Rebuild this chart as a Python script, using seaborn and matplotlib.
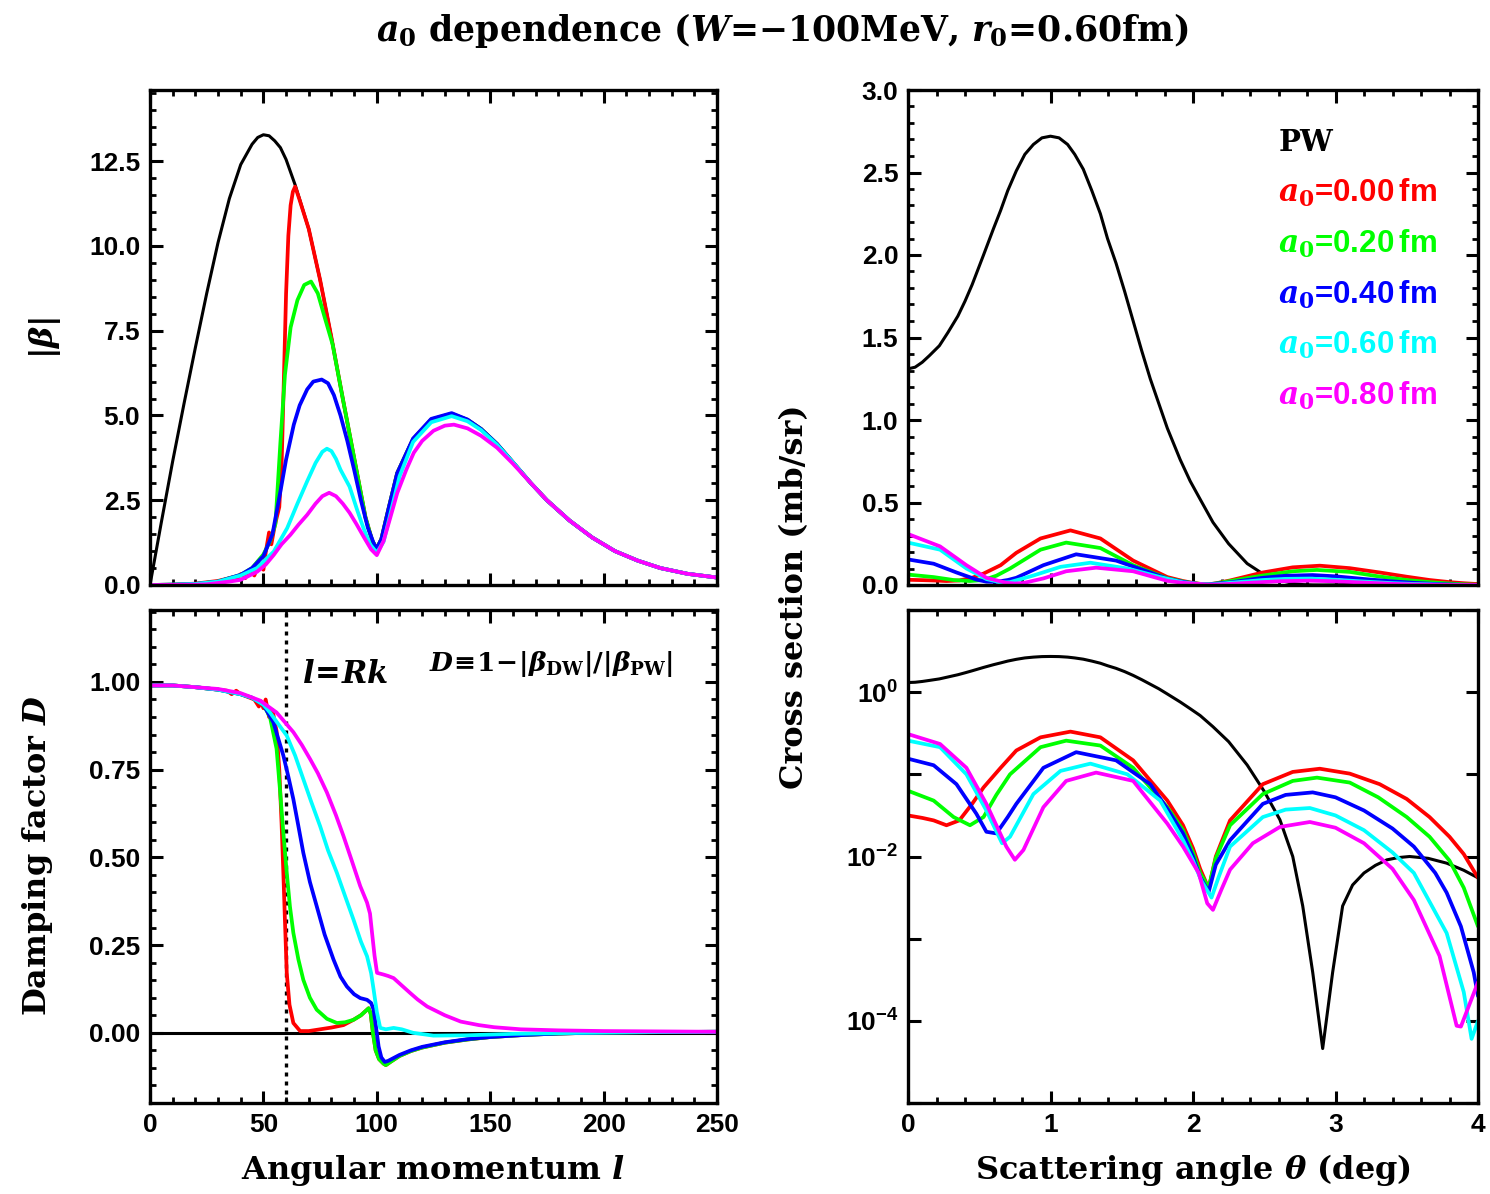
import matplotlib
matplotlib.use('Agg')
import matplotlib.pyplot as plt
from matplotlib.ticker import MultipleLocator, AutoMinorLocator, FixedLocator, FuncFormatter, NullLocator, FormatStrFormatter
import numpy as np
import pandas as pd
import seaborn as sns

# ---------------- data: |beta| vs l (top-left) ----------------
l_pw = [0, 5, 10, 15, 20, 25, 30, 35, 40, 45, 47.5, 50, 52.5, 55, 57.5, 60, 64, 70, 75, 80, 85, 90, 95, 98, 100,
        102, 105, 109, 116, 124, 133, 140, 146, 153, 160, 168, 175, 185, 195, 205, 215, 225, 237, 250]
beta_pw = [0, 1.85, 3.65, 5.35, 7.0, 8.6, 10.1, 11.4, 12.4, 13.0, 13.2, 13.28, 13.25, 13.1, 12.9, 12.55, 11.8, 10.5, 9.0, 7.3, 5.5, 3.75, 2.0, 1.3, 1.08,
           1.35, 2.2, 3.3, 4.3, 4.88, 5.03, 4.85, 4.59, 4.15, 3.62, 3.0, 2.5, 1.9, 1.4, 1.0, 0.72, 0.5, 0.33, 0.22]

l_a00 = [0, 10, 20, 30, 36, 38, 40, 42, 44, 46, 48, 50, 51, 52.5, 53.5, 55, 57, 58, 59, 60, 61, 62, 63, 64, 66, 70, 75, 80, 85, 90, 95, 98,
         100, 102, 105, 109, 116, 124, 133, 140, 146, 153, 160, 168, 175, 185, 195, 205, 215, 225, 237, 250]
beta_a00 = [0, 0.01, 0.04, 0.12, 0.22, 0.15, 0.32, 0.2, 0.45, 0.28, 0.65, 0.45, 0.95, 1.55, 1.2, 1.75, 2.3, 3.5, 6.0, 8.6, 10.3, 11.2, 11.6, 11.75, 11.35, 10.5, 9.0, 7.3, 5.5, 3.75, 2.0, 1.3,
            1.08, 1.35, 2.2, 3.3, 4.3, 4.88, 5.05, 4.87, 4.6, 4.16, 3.62, 3.0, 2.5, 1.9, 1.4, 1.0, 0.72, 0.5, 0.33, 0.22]

l_a02 = [0, 10, 20, 30, 40, 45, 50, 53, 55.3, 57.5, 59.5, 62, 65, 68, 71, 74, 77, 80.5, 85, 90, 95, 98,
         100, 102, 105, 109, 116, 124, 133, 140, 146, 153, 160, 168, 175, 185, 195, 205, 215, 225, 237, 250]
beta_a02 = [0, 0.01, 0.03, 0.1, 0.3, 0.5, 0.9, 1.3, 1.8, 4.2, 6.2, 7.6, 8.4, 8.85, 8.95, 8.6, 7.9, 7.1, 5.5, 3.75, 2.0, 1.3,
            1.08, 1.35, 2.2, 3.3, 4.3, 4.88, 5.05, 4.87, 4.6, 4.16, 3.62, 3.0, 2.5, 1.9, 1.4, 1.0, 0.72, 0.5, 0.33, 0.22]

l_a04 = [0, 10, 20, 30, 40, 45, 50, 54, 57.5, 60, 63.4, 66, 69.3, 72, 75.7, 78.5, 81.1, 84, 87, 90, 93, 96, 98.8,
         100, 102, 105, 109, 116, 124, 133, 140, 146, 153, 160, 168, 175, 185, 195, 205, 215, 225, 237, 250]
beta_a04 = [0, 0.01, 0.03, 0.1, 0.3, 0.5, 0.85, 1.5, 2.76, 3.7, 4.73, 5.3, 5.77, 6.0, 6.06, 5.95, 5.6, 5.0, 4.25, 3.4, 2.5, 1.7, 1.2,
            1.08, 1.35, 2.2, 3.3, 4.32, 4.9, 5.07, 4.88, 4.6, 4.16, 3.62, 3.0, 2.5, 1.9, 1.4, 1.0, 0.72, 0.5, 0.33, 0.22]

l_a06 = [0, 10, 20, 30, 40, 47.2, 54.6, 60.5, 65, 69.3, 73, 76, 78, 80, 82, 84, 88, 91.4, 94, 97, 100, 103,
         106, 110, 116, 124, 133, 140, 146, 153, 160, 168, 175, 185, 195, 205, 215, 225, 237, 250]
beta_a06 = [0, 0.01, 0.03, 0.1, 0.28, 0.5, 0.99, 1.68, 2.4, 3.06, 3.6, 3.93, 4.02, 3.95, 3.72, 3.4, 2.9, 2.2, 1.7, 1.2, 0.95, 1.28,
            2.1, 3.2, 4.22, 4.8, 4.98, 4.83, 4.57, 4.14, 3.62, 3.0, 2.5, 1.9, 1.4, 1.0, 0.72, 0.5, 0.33, 0.22]

l_a08 = [0, 10, 20, 25, 30, 35, 39.8, 43, 47.2, 51, 54.6, 58, 61.9, 65.5, 69.3, 73, 76, 79, 82, 85, 88, 91, 94.4, 97.5,
         100, 103, 106, 109, 113, 116.3, 120, 125, 130, 134, 140, 146, 153, 160, 168, 175, 185, 195, 205, 215, 225, 237, 250]
beta_a08 = [0, 0.005, 0.01, 0.02, 0.06, 0.1, 0.15, 0.25, 0.39, 0.6, 0.89, 1.2, 1.48, 1.78, 2.07, 2.4, 2.62, 2.72, 2.62, 2.4, 2.13, 1.8, 1.4, 1.05,
            0.88, 1.3, 2.0, 2.71, 3.4, 3.9, 4.25, 4.55, 4.7, 4.73, 4.62, 4.4, 4.05, 3.58, 3.0, 2.5, 1.9, 1.4, 1.0, 0.72, 0.5, 0.33, 0.22]

# ---------------- data: damping factor D vs l (bottom-left) ----------------
ld_a00 = [0, 10, 20, 30, 34, 36, 38, 40, 42, 44, 46, 48, 49, 50, 51, 52.5, 54, 55.8, 57, 58, 58.8, 59.5, 60.3, 61.5, 63.2, 66.2, 70, 75, 80, 85.3,
          89.7, 93, 96.4, 97.3, 98.3, 99.5, 101, 103, 104, 106, 110, 115, 120, 130, 140, 150, 165, 180, 200, 225, 250]
d_a00 = [0.99, 0.99, 0.985, 0.978, 0.975, 0.965, 0.975, 0.965, 0.96, 0.955, 0.95, 0.93, 0.945, 0.925, 0.95, 0.9, 0.92, 0.86, 0.75, 0.6, 0.456, 0.32, 0.17, 0.08, 0.028, 0.005, 0.005, 0.01, 0.015, 0.022,
         0.037, 0.05, 0.07, 0.055, 0.0, -0.05, -0.075, -0.088, -0.092, -0.083, -0.066, -0.052, -0.042, -0.028, -0.019, -0.012, -0.006, -0.002, 0.001, 0.002, 0.003]

ld_a02 = [0, 10, 20, 30, 40, 45, 50, 52.9, 55.8, 57.3, 58.8, 60.3, 61.7, 63.2, 65.4, 67.6, 70.5, 73.5, 78, 82.4, 86, 89.7, 93, 96.4, 97.3,
          98.3, 99.5, 101, 103, 104, 106, 110, 115, 120, 130, 140, 150, 165, 180, 200, 225, 250]
d_a02 = [0.99, 0.99, 0.985, 0.978, 0.965, 0.955, 0.935, 0.9, 0.81, 0.694, 0.57, 0.456, 0.36, 0.285, 0.21, 0.151, 0.1, 0.066, 0.04, 0.028, 0.03, 0.037, 0.05, 0.07, 0.055,
         0.0, -0.05, -0.075, -0.088, -0.092, -0.083, -0.066, -0.052, -0.042, -0.028, -0.019, -0.012, -0.006, -0.002, 0.001, 0.002, 0.003]

ld_a04 = [0, 10, 20, 30, 40, 45, 50, 54.4, 58.8, 61, 63.2, 65.4, 67.6, 70.5, 73.5, 77, 80.9, 84, 86.8, 90, 92.7, 95.7, 97.5, 98.6,
          100, 100.8, 102, 103.5, 105, 110, 115, 120, 130, 140, 150, 165, 180, 200, 225, 250]
d_a04 = [0.99, 0.99, 0.985, 0.978, 0.965, 0.955, 0.935, 0.885, 0.79, 0.73, 0.666, 0.59, 0.513, 0.43, 0.361, 0.28, 0.209, 0.16, 0.132, 0.11, 0.099, 0.094, 0.085, 0.066,
         0.0, -0.039, -0.07, -0.083, -0.08, -0.063, -0.05, -0.04, -0.027, -0.018, -0.012, -0.006, -0.002, 0.001, 0.002, 0.003]

ld_a06 = [0, 10, 20, 30, 40, 45, 50, 52.9, 56, 60.3, 64, 67.6, 71, 75, 78.5, 82.4, 86, 89.7, 93, 95.7, 97.5, 98.6, 100, 101.5,
          104, 107.4, 111, 116, 125, 140, 160, 190, 220, 250]
d_a06 = [0.99, 0.99, 0.985, 0.978, 0.965, 0.955, 0.935, 0.913, 0.885, 0.847, 0.79, 0.723, 0.66, 0.589, 0.52, 0.456, 0.39, 0.323, 0.26, 0.218, 0.17, 0.123, 0.06, 0.014,
         0.01, 0.014, 0.01, 0.0, -0.008, -0.007, -0.003, 0.0, 0.002, 0.003]

ld_a08 = [0, 10, 20, 30, 40, 48.5, 55.8, 63.2, 67, 70.6, 74, 78, 82, 85.3, 89, 92.7, 95.7, 97, 97.9, 99, 100.1, 103, 105, 107.4,
          111, 114.8, 118, 122.2, 130, 137, 145, 151.7, 163.5, 180, 200, 250]
d_a08 = [0.99, 0.99, 0.985, 0.98, 0.968, 0.947, 0.913, 0.857, 0.82, 0.78, 0.74, 0.685, 0.62, 0.561, 0.49, 0.418, 0.371, 0.34, 0.285, 0.22, 0.171, 0.166, 0.162, 0.156,
         0.135, 0.113, 0.095, 0.075, 0.05, 0.032, 0.022, 0.016, 0.01, 0.007, 0.005, 0.003]

l_rk = 60  # l = Rk

# ---------------- data: cross section vs theta (right column) ----------------
theta_pw = [0.00, 0.05, 0.10, 0.15, 0.22, 0.28, 0.35, 0.40, 0.45, 0.53, 0.60, 0.65, 0.70, 0.76, 0.82, 0.88, 0.94, 1.00, 1.06, 1.12,
            1.17, 1.23, 1.29, 1.35, 1.40, 1.46, 1.52, 1.58, 1.64, 1.70, 1.76, 1.82, 1.91, 1.98, 2.05, 2.14, 2.25, 2.38, 2.50, 2.61,
            2.70, 2.77, 2.84, 2.91, 2.98, 3.05, 3.12, 3.20, 3.28, 3.36, 3.44, 3.52, 3.65, 3.78, 3.90, 4.00]
xs_pw = [1.31, 1.32, 1.35, 1.39, 1.45, 1.53, 1.63, 1.72, 1.82, 2.00, 2.16, 2.27, 2.39, 2.51, 2.61, 2.67, 2.71, 2.72, 2.71, 2.67,
         2.61, 2.52, 2.39, 2.25, 2.10, 1.95, 1.78, 1.60, 1.42, 1.25, 1.10, 0.95, 0.76, 0.63, 0.52, 0.38, 0.25, 0.13, 0.062, 0.028,
         0.010, 0.0025, 0.00039, 0.000046, 0.00039, 0.0025, 0.0045, 0.0063, 0.0078, 0.0091, 0.0097, 0.0100, 0.0095, 0.0083, 0.0068, 0.0055]

theta_a00 = [0.00, 0.10, 0.18, 0.27, 0.36, 0.45, 0.53, 0.65, 0.76, 0.93, 1.14, 1.35, 1.58, 1.82, 1.93, 2.00, 2.05, 2.11, 2.16, 2.26,
             2.49, 2.70, 2.89, 3.10, 3.31, 3.50, 3.66, 3.80, 3.90, 4.00]
xs_a00 = [0.0316, 0.0295, 0.0275, 0.0240, 0.0275, 0.0437, 0.0692, 0.120, 0.195, 0.282, 0.331, 0.282, 0.148, 0.0479, 0.0240, 0.0126, 0.00708, 0.00407, 0.0100, 0.0275,
          0.0759, 0.107, 0.117, 0.102, 0.0759, 0.0501, 0.0302, 0.0174, 0.0107, 0.0055]

theta_a02 = [0.00, 0.18, 0.32, 0.435, 0.53, 0.62, 0.716, 0.93, 1.11, 1.35, 1.58, 1.82, 1.93, 2.00, 2.05, 2.11, 2.16, 2.26, 2.49, 2.70,
             2.87, 3.10, 3.30, 3.50, 3.66, 3.80, 3.90, 4.00]
xs_a02 = [0.0631, 0.0479, 0.0302, 0.0240, 0.0302, 0.0562, 0.100, 0.214, 0.257, 0.224, 0.120, 0.0398, 0.0209, 0.0112, 0.00631, 0.00417, 0.00955, 0.0240, 0.0575, 0.0832,
          0.0912, 0.0794, 0.0525, 0.0302, 0.0174, 0.00891, 0.00417, 0.00141]

theta_a04 = [0.00, 0.18, 0.34, 0.48, 0.55, 0.62, 0.70, 0.76, 0.95, 1.18, 1.46, 1.70, 1.82, 1.93, 2.00, 2.05, 2.11, 2.16, 2.26, 2.49,
             2.65, 2.84, 3.00, 3.20, 3.40, 3.55, 3.70, 3.78, 3.88, 3.97, 4.00]
xs_a04 = [0.155, 0.129, 0.0759, 0.0331, 0.0200, 0.0191, 0.0302, 0.0437, 0.120, 0.186, 0.148, 0.0759, 0.0380, 0.0191, 0.0100, 0.00562, 0.00372, 0.00794, 0.0158, 0.0437,
          0.0562, 0.0603, 0.0525, 0.0363, 0.0219, 0.0132, 0.00631, 0.00363, 0.00141, 0.000389, 0.000200]

theta_a06 = [0.00, 0.225, 0.41, 0.55, 0.66, 0.716, 0.88, 1.07, 1.28, 1.54, 1.77, 1.93, 2.00, 2.06, 2.13, 2.18, 2.26, 2.49, 2.65, 2.82,
             3.00, 3.20, 3.40, 3.55, 3.78, 3.90, 3.955, 4.00]
xs_a06 = [0.257, 0.214, 0.100, 0.0363, 0.0145, 0.0174, 0.0575, 0.110, 0.135, 0.100, 0.0479, 0.0158, 0.00891, 0.00501, 0.00316, 0.00562, 0.0132, 0.0302, 0.0372, 0.0389,
          0.0316, 0.0209, 0.0112, 0.00631, 0.00117, 0.000224, 0.0000603, 0.000100]

theta_a08 = [0.00, 0.225, 0.41, 0.55, 0.69, 0.75, 0.81, 0.95, 1.11, 1.32, 1.58, 1.82, 1.93, 2.04, 2.10, 2.14, 2.20, 2.26, 2.42, 2.61,
             2.82, 3.00, 3.20, 3.40, 3.55, 3.73, 3.85, 3.88, 4.00]
xs_a08 = [0.309, 0.234, 0.120, 0.0437, 0.0132, 0.00912, 0.0120, 0.0398, 0.0832, 0.105, 0.0832, 0.0251, 0.0132, 0.00631, 0.00269, 0.00224, 0.00398, 0.00692, 0.0145, 0.0229,
          0.0263, 0.0224, 0.0145, 0.00708, 0.00295, 0.000617, 0.0000871, 0.0000851, 0.000295]

series_labels = ['0.00', '0.20', '0.40', '0.60', '0.80']
series_colors = ['#ff0000', '#00ff00', '#0000ff', '#00ffff', '#ff00ff']

# ---------------- style ----------------
sns.set_theme(style='ticks')
plt.rcParams.update({
    'font.family': ['Liberation Sans', 'DejaVu Sans'],
    'font.weight': 'bold',
    'text.color': 'black',
    'axes.labelcolor': 'black',
    'mathtext.fontset': 'custom',
    'mathtext.rm': 'DejaVu Serif:bold',
    'mathtext.it': 'DejaVu Serif:italic:bold',
    'mathtext.bf': 'Liberation Sans:bold',
    'mathtext.sf': 'Liberation Sans:bold',
    'axes.linewidth': 2.4,
    'axes.edgecolor': 'black',
    'xtick.direction': 'in', 'ytick.direction': 'in',
    'xtick.top': True, 'ytick.right': True,
    'xtick.major.size': 9, 'ytick.major.size': 9,
    'xtick.minor.size': 4.5, 'ytick.minor.size': 4.5,
    'xtick.major.width': 2.2, 'ytick.major.width': 2.2,
    'xtick.minor.width': 2.0, 'ytick.minor.width': 2.0,
    'xtick.labelsize': 19, 'ytick.labelsize': 19,
    'xtick.major.pad': 7, 'ytick.major.pad': 7,
    'xtick.color': 'black', 'ytick.color': 'black',
    'xtick.labelcolor': 'black', 'ytick.labelcolor': 'black',
    'axes.facecolor': 'white', 'figure.facecolor': 'white',
})

W, H = 1490, 1194
fig = plt.figure(figsize=(W / 100, H / 100), dpi=100)


def box(x0, y0, x1, y1):
    return [x0 / W, 1 - y1 / H, (x1 - x0) / W, (y1 - y0) / H]


ax_b = fig.add_axes(box(150, 90, 717, 585))
ax_d = fig.add_axes(box(150, 610, 717, 1103))
ax_xl = fig.add_axes(box(908, 90, 1478, 585))
ax_xg = fig.add_axes(box(908, 610, 1478, 1103))

LWK = 2.2
LWC = 2.7


def draw(ax, x, y, color, lw, **kw):
    sns.lineplot(x=x, y=y, ax=ax, color=color, linewidth=lw, estimator=None,
                 sort=False, legend=False, **kw)


# top-left
draw(ax_b, l_pw, beta_pw, 'black', LWK)
for (lx, by), c in zip([(l_a00, beta_a00), (l_a02, beta_a02), (l_a04, beta_a04),
                        (l_a06, beta_a06), (l_a08, beta_a08)], series_colors):
    draw(ax_b, lx, by, c, LWC)
ax_b.set_xlim(0, 250)
ax_b.set_ylim(0, 14.6)
ax_b.xaxis.set_major_locator(MultipleLocator(50))
ax_b.xaxis.set_minor_locator(AutoMinorLocator(5))
ax_b.yaxis.set_major_locator(MultipleLocator(2.5))
ax_b.yaxis.set_minor_locator(AutoMinorLocator(5))
ax_b.yaxis.set_major_formatter(FormatStrFormatter('%.1f'))
ax_b.tick_params(labelbottom=False)

# bottom-left
ax_d.axhline(0, color='black', lw=LWK, zorder=1)
ax_d.axvline(l_rk, color='black', lw=2.4, ls=(0, (1.2, 1.5)), zorder=1)
for (lx, dy), c in zip([(ld_a00, d_a00), (ld_a02, d_a02), (ld_a04, d_a04),
                        (ld_a06, d_a06), (ld_a08, d_a08)], series_colors):
    draw(ax_d, lx, dy, c, LWC)
ax_d.set_xlim(0, 250)
ax_d.set_ylim(-0.2, 1.205)
ax_d.xaxis.set_major_locator(MultipleLocator(50))
ax_d.xaxis.set_minor_locator(AutoMinorLocator(5))
ax_d.yaxis.set_major_locator(MultipleLocator(0.25))
ax_d.yaxis.set_minor_locator(AutoMinorLocator(5))
ax_d.yaxis.set_major_formatter(FuncFormatter(lambda v, p: '%.2f' % v if v > -0.01 else ''))
ax_d.xaxis.set_major_formatter(FormatStrFormatter('%d'))
ax_d.text(67, 1.02, r'$l\!=\!Rk$', fontsize=22, ha='left', va='center', color='black')
ax_d.text(123, 1.05, r'$D\!\equiv\!1\!-\!|\beta_{\rm DW}|/|\beta_{\rm PW}|$', fontsize=19,
          ha='left', va='center', color='black')

# right column (same data, linear and log)
for ax in (ax_xl, ax_xg):
    if ax is ax_xg:
        ax.set_yscale('log')
    draw(ax, theta_pw, xs_pw, 'black', LWK)
    for (tx, sy), c in zip([(theta_a00, xs_a00), (theta_a02, xs_a02), (theta_a04, xs_a04),
                            (theta_a06, xs_a06), (theta_a08, xs_a08)], series_colors):
        draw(ax, tx, sy, c, LWC)
    ax.set_xlim(0, 4)
    ax.xaxis.set_major_locator(MultipleLocator(1))
    ax.xaxis.set_minor_locator(AutoMinorLocator(5))

ax_xl.set_ylim(0, 3.0)
ax_xl.yaxis.set_major_locator(MultipleLocator(0.5))
ax_xl.yaxis.set_minor_locator(AutoMinorLocator(5))
ax_xl.yaxis.set_major_formatter(FormatStrFormatter('%.1f'))
ax_xl.tick_params(labelbottom=False)

ax_xg.set_ylim(1e-5, 10)
ax_xg.yaxis.set_major_locator(FixedLocator([10.0 ** e for e in range(-5, 2)]))
ax_xg.yaxis.set_minor_locator(NullLocator())


def logfmt(v, pos):
    e = int(round(np.log10(v)))
    if e % 2 == 0 and -4 <= e <= 0:
        return r'$\mathbf{10^{%d}}$' % e
    return ''


ax_xg.yaxis.set_major_formatter(FuncFormatter(logfmt))
ax_xg.xaxis.set_major_formatter(FormatStrFormatter('%d'))

# legend-like labels
ax_xl.text(2.6, 2.68, 'PW', color='black', fontsize=21, family='DejaVu Serif',
           weight='bold', ha='left', va='center')
for i, (lab, c) in enumerate(zip(series_labels, series_colors)):
    ax_xl.text(2.6, 2.376 - i * 0.308, r'$a_0$=' + lab + r'$\,$fm', color=c, fontsize=22.5,
               ha='left', va='center')

for ax in (ax_b, ax_d, ax_xl, ax_xg):
    ax.set_xlabel('')
    ax.set_ylabel('')
    for s in ax.spines.values():
        s.set_linewidth(2.4)
    ax.tick_params(which='both', top=True, right=True, direction='in')

# labels
lab_kw = dict(family='DejaVu Serif', weight='bold', fontsize=23, color='black')
fig.text(0.525, 1 - 30 / H, r'$a_0$ dependence ($W$=$-$100MeV, $r_0$=0.60fm)',
         ha='center', va='center', family='DejaVu Serif', weight='bold', fontsize=25, color='black')
fig.text(45 / W, 1 - 338 / H, r'$|\beta|$', rotation=90, ha='center', va='center', **lab_kw)
fig.text(38 / W, 1 - 855 / H, r'Damping factor $D$', rotation=90, ha='center', va='center', **lab_kw)
fig.text(795 / W, 1 - 597 / H, 'Cross section (mb/sr)', rotation=90, ha='center', va='center', **lab_kw)
fig.text(433 / W, 1 - 1170 / H, r'Angular momentum $l$', ha='center', va='center', **lab_kw)
fig.text(1193 / W, 1 - 1170 / H, r'Scattering angle $\theta$ (deg)', ha='center', va='center', **lab_kw)

fig.savefig('out.png', dpi=100)
